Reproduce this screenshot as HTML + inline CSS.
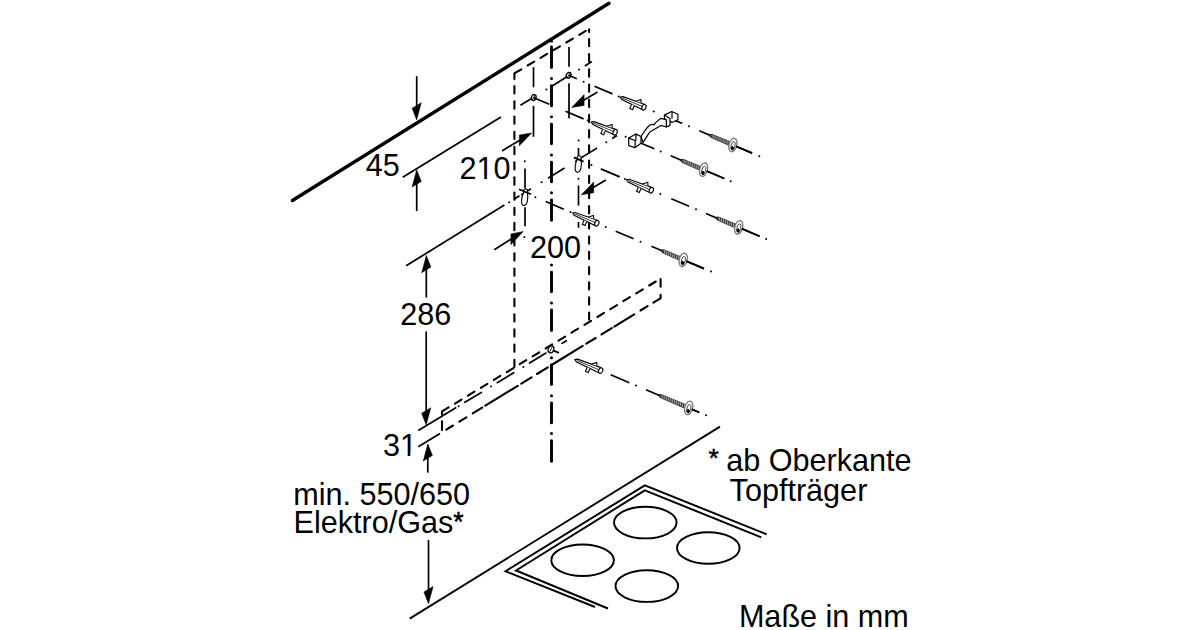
<!DOCTYPE html>
<html><head><meta charset="utf-8"><style>
html,body{margin:0;padding:0;background:#fff;width:1200px;height:630px;overflow:hidden}
svg{display:block}
text{font-family:"Liberation Sans",sans-serif;font-size:30.6px;fill:#000}
</style></head><body>
<svg width="1200" height="630" viewBox="0 0 1200 630">
<rect width="1200" height="630" fill="#fff"/>
<g stroke="#000" fill="none">
<line x1="292.4" y1="200.5" x2="609.0" y2="3.3" stroke-width="3.4" stroke-linecap="round" />
<line x1="416.7" y1="76.2" x2="416.7" y2="107.5" stroke-width="1.7" stroke-linecap="butt" />
<polygon points="416.7,120.0 421.3,102.7 412.1,108.3" fill="#000" stroke="#000" stroke-width="0.5" stroke-linejoin="round"/>
<line x1="416.7" y1="211.0" x2="416.7" y2="182.3" stroke-width="1.7" stroke-linecap="butt" />
<polygon points="416.7,169.8 421.3,181.5 412.1,187.1" fill="#000" stroke="#000" stroke-width="0.5" stroke-linejoin="round"/>
<line x1="402.7" y1="177.3" x2="501.0" y2="117.1" stroke-width="1.75" stroke-linecap="butt" />
<line x1="520.4" y1="105.3" x2="532.0" y2="98.2" stroke-width="1.75" stroke-linecap="butt" />
<circle cx="546.4" cy="89.4" r="1.0" fill="#000" stroke="none"/>
<line x1="551.3" y1="86.4" x2="566.5" y2="77.1" stroke-width="1.75" stroke-linecap="butt" />
<circle cx="579.0" cy="69.4" r="1.0" fill="#000" stroke="none"/>
<line x1="584.8" y1="65.9" x2="591.9" y2="61.5" stroke-width="1.75" stroke-linecap="butt" />
<line x1="502.0" y1="151.0" x2="521.0" y2="139.4" stroke-width="1.7" stroke-linecap="butt" />
<polygon points="531.7,132.9 519.3,145.8 519.3,135.0" fill="#000" stroke="#000" stroke-width="0.5" stroke-linejoin="round"/>
<line x1="597.5" y1="92.0" x2="582.4" y2="101.1" stroke-width="1.7" stroke-linecap="butt" />
<polygon points="571.7,107.5 584.1,105.4 584.1,94.6" fill="#000" stroke="#000" stroke-width="0.5" stroke-linejoin="round"/>
<line x1="406.2" y1="265.7" x2="504.4" y2="205.1" stroke-width="1.75" stroke-linecap="butt" />
<circle cx="509.1" cy="202.2" r="1.0" fill="#000" stroke="none"/>
<line x1="514.4" y1="198.9" x2="519.5" y2="195.8" stroke-width="1.75" stroke-linecap="butt" />
<line x1="521.0" y1="194.9" x2="531.0" y2="188.7" stroke-width="1.6" stroke-linecap="butt" />
<circle cx="541.6" cy="182.2" r="1.0" fill="#000" stroke="none"/>
<line x1="548.0" y1="178.2" x2="564.5" y2="168.0" stroke-width="1.75" stroke-linecap="butt" />
<line x1="575.0" y1="161.6" x2="597.0" y2="148.0" stroke-width="1.6" stroke-linecap="butt" />
<circle cx="606.3" cy="142.2" r="1.0" fill="#000" stroke="none"/>
<line x1="612.2" y1="138.6" x2="617.0" y2="135.6" stroke-width="1.75" stroke-linecap="butt" />
<line x1="494.3" y1="249.8" x2="512.6" y2="238.2" stroke-width="1.7" stroke-linecap="butt" />
<polygon points="523.2,231.5 510.9,244.7 510.9,233.9" fill="#000" stroke="#000" stroke-width="0.5" stroke-linejoin="round"/>
<line x1="605.8" y1="179.9" x2="592.0" y2="188.3" stroke-width="1.7" stroke-linecap="butt" />
<polygon points="581.3,194.8 593.7,192.7 593.7,181.9" fill="#000" stroke="#000" stroke-width="0.5" stroke-linejoin="round"/>
<line x1="514.4" y1="73.8" x2="514.4" y2="79.1" stroke-width="2.1" stroke-linecap="round" />
<line x1="514.4" y1="86.1" x2="514.4" y2="93.5" stroke-width="2.1" stroke-linecap="round" />
<line x1="514.4" y1="101.3" x2="514.4" y2="108.7" stroke-width="2.1" stroke-linecap="round" />
<line x1="514.4" y1="116.5" x2="514.4" y2="123.8" stroke-width="2.1" stroke-linecap="round" />
<line x1="514.4" y1="131.7" x2="514.4" y2="139.0" stroke-width="2.1" stroke-linecap="round" />
<line x1="514.4" y1="146.9" x2="514.4" y2="154.2" stroke-width="2.1" stroke-linecap="round" />
<line x1="514.4" y1="162.2" x2="514.4" y2="169.5" stroke-width="2.1" stroke-linecap="round" />
<line x1="514.4" y1="177.3" x2="514.4" y2="184.7" stroke-width="2.1" stroke-linecap="round" />
<line x1="514.4" y1="192.5" x2="514.4" y2="199.8" stroke-width="2.1" stroke-linecap="round" />
<line x1="514.4" y1="207.7" x2="514.4" y2="215.0" stroke-width="2.1" stroke-linecap="round" />
<line x1="514.4" y1="222.9" x2="514.4" y2="230.2" stroke-width="2.1" stroke-linecap="round" />
<line x1="514.4" y1="238.2" x2="514.4" y2="245.5" stroke-width="2.1" stroke-linecap="round" />
<line x1="514.4" y1="253.3" x2="514.4" y2="260.6" stroke-width="2.1" stroke-linecap="round" />
<line x1="514.4" y1="268.6" x2="514.4" y2="275.8" stroke-width="2.1" stroke-linecap="round" />
<line x1="514.4" y1="283.8" x2="514.4" y2="291.0" stroke-width="2.1" stroke-linecap="round" />
<line x1="514.4" y1="298.9" x2="514.4" y2="306.2" stroke-width="2.1" stroke-linecap="round" />
<line x1="514.4" y1="314.2" x2="514.4" y2="321.4" stroke-width="2.1" stroke-linecap="round" />
<line x1="514.4" y1="329.4" x2="514.4" y2="336.6" stroke-width="2.1" stroke-linecap="round" />
<line x1="514.4" y1="344.6" x2="514.4" y2="351.8" stroke-width="2.1" stroke-linecap="round" />
<line x1="514.4" y1="359.8" x2="514.4" y2="367.0" stroke-width="2.1" stroke-linecap="round" />
<line x1="589.1" y1="29.4" x2="589.1" y2="32.1" stroke-width="2.1" stroke-linecap="round" />
<line x1="589.1" y1="39.0" x2="589.1" y2="46.2" stroke-width="2.1" stroke-linecap="round" />
<line x1="589.1" y1="54.1" x2="589.1" y2="61.4" stroke-width="2.1" stroke-linecap="round" />
<line x1="589.1" y1="69.3" x2="589.1" y2="76.7" stroke-width="2.1" stroke-linecap="round" />
<line x1="589.1" y1="84.5" x2="589.1" y2="91.8" stroke-width="2.1" stroke-linecap="round" />
<line x1="589.1" y1="99.8" x2="589.1" y2="107.1" stroke-width="2.1" stroke-linecap="round" />
<line x1="589.1" y1="114.9" x2="589.1" y2="122.2" stroke-width="2.1" stroke-linecap="round" />
<line x1="589.1" y1="130.1" x2="589.1" y2="137.4" stroke-width="2.1" stroke-linecap="round" />
<line x1="589.1" y1="145.3" x2="589.1" y2="152.7" stroke-width="2.1" stroke-linecap="round" />
<line x1="589.1" y1="160.5" x2="589.1" y2="167.8" stroke-width="2.1" stroke-linecap="round" />
<line x1="589.1" y1="175.7" x2="589.1" y2="183.0" stroke-width="2.1" stroke-linecap="round" />
<line x1="589.1" y1="190.9" x2="589.1" y2="198.2" stroke-width="2.1" stroke-linecap="round" />
<line x1="589.1" y1="206.1" x2="589.1" y2="213.4" stroke-width="2.1" stroke-linecap="round" />
<line x1="589.1" y1="221.3" x2="589.1" y2="228.6" stroke-width="2.1" stroke-linecap="round" />
<line x1="589.1" y1="236.5" x2="589.1" y2="243.8" stroke-width="2.1" stroke-linecap="round" />
<line x1="589.1" y1="251.7" x2="589.1" y2="259.0" stroke-width="2.1" stroke-linecap="round" />
<line x1="589.1" y1="267.0" x2="589.1" y2="274.2" stroke-width="2.1" stroke-linecap="round" />
<line x1="589.1" y1="282.2" x2="589.1" y2="289.4" stroke-width="2.1" stroke-linecap="round" />
<line x1="589.1" y1="297.4" x2="589.1" y2="304.6" stroke-width="2.1" stroke-linecap="round" />
<line x1="589.1" y1="312.6" x2="589.1" y2="319.6" stroke-width="2.1" stroke-linecap="round" />
<line x1="514.7" y1="73.2" x2="521.3" y2="69.3" stroke-width="2.1" stroke-linecap="round" />
<line x1="527.6" y1="65.5" x2="534.2" y2="61.6" stroke-width="2.1" stroke-linecap="round" />
<line x1="540.5" y1="57.9" x2="547.1" y2="53.9" stroke-width="2.1" stroke-linecap="round" />
<line x1="553.4" y1="50.2" x2="560.0" y2="46.3" stroke-width="2.1" stroke-linecap="round" />
<line x1="566.3" y1="42.5" x2="572.9" y2="38.6" stroke-width="2.1" stroke-linecap="round" />
<line x1="579.2" y1="34.8" x2="585.8" y2="30.9" stroke-width="2.1" stroke-linecap="round" />
<line x1="533.5" y1="67.2" x2="533.5" y2="87.3" stroke-width="1.7" stroke-linecap="butt" />
<line x1="533.5" y1="105.9" x2="533.5" y2="136.8" stroke-width="1.7" stroke-linecap="butt" />
<line x1="569.0" y1="47.1" x2="569.0" y2="66.7" stroke-width="1.7" stroke-linecap="butt" />
<line x1="569.0" y1="83.2" x2="569.0" y2="118.3" stroke-width="1.7" stroke-linecap="butt" />
<circle cx="524.8" cy="161.3" r="1.0" fill="#000" stroke="none"/>
<line x1="525.0" y1="168.5" x2="525.0" y2="188.0" stroke-width="1.7" stroke-linecap="butt" />
<line x1="525.0" y1="207.2" x2="525.0" y2="226.2" stroke-width="1.7" stroke-linecap="butt" />
<circle cx="524.4" cy="236.9" r="1.0" fill="#000" stroke="none"/>
<circle cx="578.6" cy="140.6" r="1.0" fill="#000" stroke="none"/>
<line x1="578.5" y1="147.9" x2="578.5" y2="156.0" stroke-width="1.7" stroke-linecap="butt" />
<line x1="578.5" y1="185.5" x2="578.5" y2="205.6" stroke-width="1.7" stroke-linecap="butt" />
<line x1="578.5" y1="222.0" x2="578.5" y2="227.8" stroke-width="1.7" stroke-linecap="butt" />
<circle cx="578.5" cy="178.8" r="1.0" fill="#000" stroke="none"/>
<ellipse cx="533.7" cy="97.5" rx="2.3" ry="3" fill="#fff" stroke="#000" stroke-width="1.3" transform="rotate(20 533.7 97.5)"/>
<line x1="532.2" y1="100.0" x2="535.2" y2="95.0" stroke-width="0.9" stroke-linecap="butt" />
<ellipse cx="568.6" cy="75.3" rx="2.3" ry="3" fill="#fff" stroke="#000" stroke-width="1.3" transform="rotate(20 568.6 75.3)"/>
<line x1="567.1" y1="77.8" x2="570.1" y2="72.8" stroke-width="0.9" stroke-linecap="butt" />
<circle cx="525.6" cy="190.9" r="2" fill="#fff" stroke="#000" stroke-width="1.1"/>
<path d="M523.8000000000001,192.4 C521.1,196.9 520.6,204.9 523.6,205.4 C527.1,205.9 528.6,198.9 527.4,192.4" fill="#fff" stroke="#000" stroke-width="1.1"/>
<circle cx="579.2" cy="157.7" r="2" fill="#fff" stroke="#000" stroke-width="1.1"/>
<path d="M577.4000000000001,159.2 C574.7,163.7 574.2,171.7 577.2,172.2 C580.7,172.7 582.2,165.7 581.0,159.2" fill="#fff" stroke="#000" stroke-width="1.1"/>
<line x1="519.0" y1="189.2" x2="531.0" y2="194.3" stroke-width="1.75" stroke-linecap="butt" />
<line x1="573.8" y1="157.4" x2="583.6" y2="161.6" stroke-width="1.75" stroke-linecap="butt" />
<line x1="551.5" y1="39.5" x2="551.5" y2="42.5" stroke-width="2.6" stroke-linecap="butt" />
<line x1="551.5" y1="47.0" x2="551.5" y2="67.6" stroke-width="2.9" stroke-linecap="round" />
<line x1="551.5" y1="85.8" x2="551.5" y2="105.9" stroke-width="2.9" stroke-linecap="round" />
<line x1="551.5" y1="124.1" x2="551.5" y2="143.7" stroke-width="2.9" stroke-linecap="round" />
<line x1="551.5" y1="162.3" x2="551.5" y2="181.9" stroke-width="2.9" stroke-linecap="round" />
<line x1="551.5" y1="199.9" x2="551.5" y2="220.3" stroke-width="2.9" stroke-linecap="round" />
<line x1="551.5" y1="272.1" x2="551.5" y2="291.8" stroke-width="2.9" stroke-linecap="round" />
<line x1="551.5" y1="310.0" x2="551.5" y2="330.5" stroke-width="2.9" stroke-linecap="round" />
<line x1="551.5" y1="365.0" x2="551.5" y2="384.6" stroke-width="2.9" stroke-linecap="round" />
<line x1="551.5" y1="402.9" x2="551.5" y2="422.9" stroke-width="2.9" stroke-linecap="round" />
<line x1="551.5" y1="440.7" x2="551.5" y2="461.4" stroke-width="2.9" stroke-linecap="round" />
<circle cx="551.5" cy="78.6" r="1.5" fill="#000" stroke="none"/>
<circle cx="551.5" cy="116.8" r="1.5" fill="#000" stroke="none"/>
<circle cx="551.5" cy="155.1" r="1.5" fill="#000" stroke="none"/>
<circle cx="551.5" cy="192.7" r="1.5" fill="#000" stroke="none"/>
<circle cx="551.5" cy="265.0" r="1.5" fill="#000" stroke="none"/>
<circle cx="551.5" cy="303.1" r="1.5" fill="#000" stroke="none"/>
<circle cx="551.5" cy="357.7" r="1.5" fill="#000" stroke="none"/>
<circle cx="551.5" cy="395.7" r="1.5" fill="#000" stroke="none"/>
<circle cx="551.5" cy="433.6" r="1.5" fill="#000" stroke="none"/>
<line x1="568.6" y1="75.3" x2="576.9" y2="78.8" stroke-width="1.75" stroke-linecap="butt" />
<circle cx="583.6" cy="81.7" r="1.0" fill="#000" stroke="none"/>
<line x1="594.4" y1="86.2" x2="612.5" y2="93.9" stroke-width="1.75" stroke-linecap="butt" />
<circle cx="618.7" cy="96.5" r="1.0" fill="#000" stroke="none"/>
<g transform="translate(621.3,97.6) rotate(23.0)" fill="#fff" stroke="#000" stroke-width="1.1"><path d="M-1.2,0 L1.2,-1.5 L23.8,-2.8 L23.8,2.8 L1.2,1.5 Z"/><line x1="1" y1="0" x2="22.8" y2="0" stroke-width="0.7"/><ellipse cx="24.6" cy="0" rx="2" ry="2.9"/><path d="M12.1,2.2 l0,4.5 l3,0 l0,-4.5" /><path d="M14.8,-2.4 l4,-3.5 l1.5,3" /></g>
<circle cx="653.8" cy="111.4" r="1.0" fill="#000" stroke="none"/>
<line x1="670.8" y1="118.6" x2="682.3" y2="123.5" stroke-width="1.75" stroke-linecap="butt" />
<circle cx="689.0" cy="126.3" r="1.0" fill="#000" stroke="none"/>
<g transform="translate(699.3,130.7) rotate(23.0)" stroke="#000"><line x1="0" y1="0" x2="57.4" y2="0" stroke-width="1.7"/><path d="M10.2,0 L13.2,-1.7 L34.5,-1.9 L34.5,1.9 L13.2,1.7 Z" fill="#444" stroke-width="0.6"/><line x1="14.2" y1="-1.9" x2="15.4" y2="1.9" stroke="#ccc" stroke-width="0.6"/><line x1="16.4" y1="-1.9" x2="17.6" y2="1.9" stroke="#ccc" stroke-width="0.6"/><line x1="18.6" y1="-1.9" x2="19.8" y2="1.9" stroke="#ccc" stroke-width="0.6"/><line x1="20.8" y1="-1.9" x2="22.0" y2="1.9" stroke="#ccc" stroke-width="0.6"/><line x1="23.0" y1="-1.9" x2="24.2" y2="1.9" stroke="#ccc" stroke-width="0.6"/><line x1="25.2" y1="-1.9" x2="26.4" y2="1.9" stroke="#ccc" stroke-width="0.6"/><line x1="27.4" y1="-1.9" x2="28.6" y2="1.9" stroke="#ccc" stroke-width="0.6"/><line x1="29.6" y1="-1.9" x2="30.8" y2="1.9" stroke="#ccc" stroke-width="0.6"/><line x1="31.8" y1="-1.9" x2="33.0" y2="1.9" stroke="#ccc" stroke-width="0.6"/></g>
<ellipse cx="732.9" cy="145.0" rx="3.9" ry="6.9" transform="rotate(14 732.9 145.0)" fill="#fff" stroke="#777" stroke-width="1.3"/>
<ellipse cx="733.2" cy="145.6" rx="1.9" ry="4.3" transform="rotate(14 732.9 145.0)" fill="#fff" stroke="#444" stroke-width="0.9"/>
<ellipse cx="732.3" cy="148.2" rx="1.1" ry="1.7" fill="#000"/>
<line x1="735.9" y1="146.2" x2="752.1" y2="153.1" stroke-width="1.7" stroke-linecap="butt" />
<circle cx="759.3" cy="156.2" r="1.0" fill="#000" stroke="none"/>
<line x1="533.7" y1="97.7" x2="549.3" y2="104.3" stroke-width="1.75" stroke-linecap="butt" />
<line x1="565.5" y1="111.2" x2="583.6" y2="118.9" stroke-width="1.75" stroke-linecap="butt" />
<circle cx="587.8" cy="120.6" r="1.0" fill="#000" stroke="none"/>
<g transform="translate(592.4,122.6) rotate(23.0)" fill="#fff" stroke="#000" stroke-width="1.1"><path d="M-1.2,0 L1.2,-1.5 L23.9,-2.8 L23.9,2.8 L1.2,1.5 Z"/><line x1="1" y1="0" x2="22.9" y2="0" stroke-width="0.7"/><ellipse cx="24.7" cy="0" rx="2" ry="2.9"/><path d="M12.1,2.2 l0,4.5 l3,0 l0,-4.5" /><path d="M14.8,-2.4 l4,-3.5 l1.5,3" /></g>
<circle cx="625.6" cy="136.7" r="1.0" fill="#000" stroke="none"/>
<line x1="635.1" y1="140.7" x2="654.3" y2="148.8" stroke-width="1.75" stroke-linecap="butt" />
<circle cx="660.7" cy="151.5" r="1.0" fill="#000" stroke="none"/>
<g transform="translate(670.7,155.8) rotate(23.0)" stroke="#000"><line x1="0" y1="0" x2="58.2" y2="0" stroke-width="1.7"/><path d="M10.0,0 L13.0,-1.7 L33.7,-1.9 L33.7,1.9 L13.0,1.7 Z" fill="#444" stroke-width="0.6"/><line x1="14.0" y1="-1.9" x2="15.2" y2="1.9" stroke="#ccc" stroke-width="0.6"/><line x1="16.2" y1="-1.9" x2="17.4" y2="1.9" stroke="#ccc" stroke-width="0.6"/><line x1="18.4" y1="-1.9" x2="19.6" y2="1.9" stroke="#ccc" stroke-width="0.6"/><line x1="20.6" y1="-1.9" x2="21.8" y2="1.9" stroke="#ccc" stroke-width="0.6"/><line x1="22.8" y1="-1.9" x2="24.0" y2="1.9" stroke="#ccc" stroke-width="0.6"/><line x1="25.0" y1="-1.9" x2="26.2" y2="1.9" stroke="#ccc" stroke-width="0.6"/><line x1="27.2" y1="-1.9" x2="28.4" y2="1.9" stroke="#ccc" stroke-width="0.6"/><line x1="29.4" y1="-1.9" x2="30.6" y2="1.9" stroke="#ccc" stroke-width="0.6"/><line x1="31.6" y1="-1.9" x2="32.8" y2="1.9" stroke="#ccc" stroke-width="0.6"/></g>
<ellipse cx="703.6" cy="169.7" rx="3.9" ry="6.9" transform="rotate(14 703.6 169.7)" fill="#fff" stroke="#777" stroke-width="1.3"/>
<ellipse cx="703.9" cy="170.3" rx="1.9" ry="4.3" transform="rotate(14 703.6 169.7)" fill="#fff" stroke="#444" stroke-width="0.9"/>
<ellipse cx="703.0" cy="172.9" rx="1.1" ry="1.7" fill="#000"/>
<line x1="706.6" y1="171.0" x2="724.3" y2="178.5" stroke-width="1.7" stroke-linecap="butt" />
<circle cx="730.7" cy="181.2" r="1.0" fill="#000" stroke="none"/>
<circle cx="591.5" cy="164.9" r="1.0" fill="#000" stroke="none"/>
<line x1="600.8" y1="168.9" x2="619.7" y2="176.9" stroke-width="1.75" stroke-linecap="butt" />
<circle cx="625.0" cy="179.1" r="1.0" fill="#000" stroke="none"/>
<g transform="translate(627.6,180.2) rotate(23.0)" fill="#fff" stroke="#000" stroke-width="1.1"><path d="M-1.2,0 L1.2,-1.5 L25.0,-2.8 L25.0,2.8 L1.2,1.5 Z"/><line x1="1" y1="0" x2="24.0" y2="0" stroke-width="0.7"/><ellipse cx="25.8" cy="0" rx="2" ry="2.9"/><path d="M12.6,2.2 l0,4.5 l3,0 l0,-4.5" /><path d="M15.4,-2.4 l4,-3.5 l1.5,3" /></g>
<circle cx="660.4" cy="194.1" r="1.0" fill="#000" stroke="none"/>
<line x1="671.3" y1="198.7" x2="689.1" y2="206.3" stroke-width="1.75" stroke-linecap="butt" />
<circle cx="696.0" cy="209.2" r="1.0" fill="#000" stroke="none"/>
<g transform="translate(706.0,213.5) rotate(23.0)" stroke="#000"><line x1="0" y1="0" x2="58.2" y2="0" stroke-width="1.7"/><path d="M9.9,0 L12.9,-1.7 L33.5,-1.9 L33.5,1.9 L12.9,1.7 Z" fill="#444" stroke-width="0.6"/><line x1="13.9" y1="-1.9" x2="15.1" y2="1.9" stroke="#ccc" stroke-width="0.6"/><line x1="16.1" y1="-1.9" x2="17.3" y2="1.9" stroke="#ccc" stroke-width="0.6"/><line x1="18.3" y1="-1.9" x2="19.5" y2="1.9" stroke="#ccc" stroke-width="0.6"/><line x1="20.5" y1="-1.9" x2="21.7" y2="1.9" stroke="#ccc" stroke-width="0.6"/><line x1="22.7" y1="-1.9" x2="23.9" y2="1.9" stroke="#ccc" stroke-width="0.6"/><line x1="24.9" y1="-1.9" x2="26.1" y2="1.9" stroke="#ccc" stroke-width="0.6"/><line x1="27.1" y1="-1.9" x2="28.3" y2="1.9" stroke="#ccc" stroke-width="0.6"/><line x1="29.3" y1="-1.9" x2="30.5" y2="1.9" stroke="#ccc" stroke-width="0.6"/><line x1="31.5" y1="-1.9" x2="32.7" y2="1.9" stroke="#ccc" stroke-width="0.6"/></g>
<ellipse cx="738.7" cy="227.3" rx="3.9" ry="6.9" transform="rotate(14 738.7 227.3)" fill="#fff" stroke="#777" stroke-width="1.3"/>
<ellipse cx="739.0" cy="227.9" rx="1.9" ry="4.3" transform="rotate(14 738.7 227.3)" fill="#fff" stroke="#444" stroke-width="0.9"/>
<ellipse cx="738.1" cy="230.5" rx="1.1" ry="1.7" fill="#000"/>
<line x1="741.7" y1="228.6" x2="759.6" y2="236.2" stroke-width="1.7" stroke-linecap="butt" />
<circle cx="766.1" cy="238.9" r="1.0" fill="#000" stroke="none"/>
<circle cx="535.4" cy="197.2" r="1.0" fill="#000" stroke="none"/>
<line x1="545.7" y1="201.5" x2="563.8" y2="209.2" stroke-width="1.75" stroke-linecap="butt" />
<circle cx="570.5" cy="212.0" r="1.0" fill="#000" stroke="none"/>
<g transform="translate(573.6,213.4) rotate(23.0)" fill="#fff" stroke="#000" stroke-width="1.1"><path d="M-1.2,0 L1.2,-1.5 L24.4,-2.8 L24.4,2.8 L1.2,1.5 Z"/><line x1="1" y1="0" x2="23.4" y2="0" stroke-width="0.7"/><ellipse cx="25.2" cy="0" rx="2" ry="2.9"/><path d="M12.3,2.2 l0,4.5 l3,0 l0,-4.5" /><path d="M15.1,-2.4 l4,-3.5 l1.5,3" /></g>
<circle cx="605.8" cy="227.0" r="1.0" fill="#000" stroke="none"/>
<line x1="615.7" y1="231.2" x2="633.6" y2="238.8" stroke-width="1.75" stroke-linecap="butt" />
<circle cx="640.5" cy="241.7" r="1.0" fill="#000" stroke="none"/>
<g transform="translate(651.4,246.3) rotate(23.0)" stroke="#000"><line x1="0" y1="0" x2="57.1" y2="0" stroke-width="1.7"/><path d="M9.7,0 L12.7,-1.7 L32.5,-1.9 L32.5,1.9 L12.7,1.7 Z" fill="#444" stroke-width="0.6"/><line x1="13.7" y1="-1.9" x2="14.9" y2="1.9" stroke="#ccc" stroke-width="0.6"/><line x1="15.9" y1="-1.9" x2="17.1" y2="1.9" stroke="#ccc" stroke-width="0.6"/><line x1="18.1" y1="-1.9" x2="19.3" y2="1.9" stroke="#ccc" stroke-width="0.6"/><line x1="20.3" y1="-1.9" x2="21.5" y2="1.9" stroke="#ccc" stroke-width="0.6"/><line x1="22.5" y1="-1.9" x2="23.7" y2="1.9" stroke="#ccc" stroke-width="0.6"/><line x1="24.7" y1="-1.9" x2="25.9" y2="1.9" stroke="#ccc" stroke-width="0.6"/><line x1="26.9" y1="-1.9" x2="28.1" y2="1.9" stroke="#ccc" stroke-width="0.6"/><line x1="29.1" y1="-1.9" x2="30.3" y2="1.9" stroke="#ccc" stroke-width="0.6"/><line x1="31.3" y1="-1.9" x2="32.5" y2="1.9" stroke="#ccc" stroke-width="0.6"/></g>
<ellipse cx="683.2" cy="259.8" rx="3.9" ry="6.9" transform="rotate(14 683.2 259.8)" fill="#fff" stroke="#777" stroke-width="1.3"/>
<ellipse cx="683.5" cy="260.4" rx="1.9" ry="4.3" transform="rotate(14 683.2 259.8)" fill="#fff" stroke="#444" stroke-width="0.9"/>
<ellipse cx="682.6" cy="263.0" rx="1.1" ry="1.7" fill="#000"/>
<line x1="686.2" y1="261.1" x2="704.0" y2="268.6" stroke-width="1.7" stroke-linecap="butt" />
<circle cx="711.0" cy="271.6" r="1.0" fill="#000" stroke="none"/>
<line x1="553.5" y1="350.6" x2="559.0" y2="352.9" stroke-width="1.75" stroke-linecap="butt" />
<g transform="translate(576.0,360.1) rotate(23.0)" fill="#fff" stroke="#000" stroke-width="1.1"><path d="M-1.2,0 L1.2,-1.5 L26.0,-2.8 L26.0,2.8 L1.2,1.5 Z"/><line x1="1" y1="0" x2="25.0" y2="0" stroke-width="0.7"/><ellipse cx="26.8" cy="0" rx="2" ry="2.9"/><path d="M13.1,2.2 l0,4.5 l3,0 l0,-4.5" /><path d="M16.0,-2.4 l4,-3.5 l1.5,3" /></g>
<line x1="610.7" y1="374.8" x2="629.3" y2="382.7" stroke-width="1.75" stroke-linecap="butt" />
<circle cx="636.0" cy="385.5" r="1.0" fill="#000" stroke="none"/>
<g transform="translate(646.0,389.8) rotate(23.0)" stroke="#000"><line x1="0" y1="0" x2="57.9" y2="0" stroke-width="1.7"/><path d="M13.0,0 L16.0,-1.7 L44.4,-1.9 L44.4,1.9 L16.0,1.7 Z" fill="#444" stroke-width="0.6"/><line x1="17.0" y1="-1.9" x2="18.2" y2="1.9" stroke="#ccc" stroke-width="0.6"/><line x1="19.2" y1="-1.9" x2="20.4" y2="1.9" stroke="#ccc" stroke-width="0.6"/><line x1="21.4" y1="-1.9" x2="22.6" y2="1.9" stroke="#ccc" stroke-width="0.6"/><line x1="23.6" y1="-1.9" x2="24.8" y2="1.9" stroke="#ccc" stroke-width="0.6"/><line x1="25.8" y1="-1.9" x2="27.0" y2="1.9" stroke="#ccc" stroke-width="0.6"/><line x1="28.0" y1="-1.9" x2="29.2" y2="1.9" stroke="#ccc" stroke-width="0.6"/><line x1="30.2" y1="-1.9" x2="31.4" y2="1.9" stroke="#ccc" stroke-width="0.6"/><line x1="32.4" y1="-1.9" x2="33.6" y2="1.9" stroke="#ccc" stroke-width="0.6"/><line x1="34.6" y1="-1.9" x2="35.8" y2="1.9" stroke="#ccc" stroke-width="0.6"/><line x1="36.8" y1="-1.9" x2="38.0" y2="1.9" stroke="#ccc" stroke-width="0.6"/><line x1="39.0" y1="-1.9" x2="40.2" y2="1.9" stroke="#ccc" stroke-width="0.6"/><line x1="41.2" y1="-1.9" x2="42.4" y2="1.9" stroke="#ccc" stroke-width="0.6"/></g>
<ellipse cx="688.7" cy="407.9" rx="3.9" ry="6.9" transform="rotate(14 688.7 407.9)" fill="#fff" stroke="#777" stroke-width="1.3"/>
<ellipse cx="689.0" cy="408.5" rx="1.9" ry="4.3" transform="rotate(14 688.7 407.9)" fill="#fff" stroke="#444" stroke-width="0.9"/>
<ellipse cx="688.1" cy="411.1" rx="1.1" ry="1.7" fill="#000"/>
<line x1="691.7" y1="409.2" x2="699.3" y2="412.4" stroke-width="1.7" stroke-linecap="butt" />
<circle cx="706.0" cy="415.2" r="1.0" fill="#000" stroke="none"/>
<ellipse cx="551" cy="349.3" rx="2.7" ry="3.6" fill="#fff" stroke="#000" stroke-width="1.3" transform="rotate(20 551 349.3)"/>
<line x1="549.6" y1="351.8" x2="552.4" y2="346.8" stroke-width="0.9" stroke-linecap="butt" />
<g fill="#fff" stroke="#000" stroke-width="1.2" stroke-linejoin="round" stroke-linecap="round">
<path d="M641,136.5 C644.5,131.5 646.5,127.5 649.4,125.4 L652.5,124.3 L654.2,124.8 L655.6,122.6 L660.9,118.3 L666.8,119.8 L666.4,127 L660.9,125.4 L649.8,132.1 C647.5,135 645.5,139 643,142.5 Z"/>
<path d="M628.7,138.1 L635.9,134.1 L641,136.5 L641,143.3 L635.1,147.6 L628.7,145.6 Z"/>
<path d="M628.7,138.1 L635.1,140.5 L635.1,147.6 M635.9,134.1 L635.9,140.2"/>
<path d="M664.4,115.1 L671.6,111.5 L677.9,114.3 L677.9,119.8 L672,122.5 L670,121 L670,125.4 L666.4,127 L666.4,119.8 L664.4,118.5 Z"/>
<path d="M672,111.5 L672,118.3 M664.4,115.1 L670,118.5 L670,121"/>
</g>
<line x1="442.0" y1="411.4" x2="448.6" y2="407.4" stroke-width="2.1" stroke-linecap="round" />
<line x1="454.9" y1="403.6" x2="461.5" y2="399.6" stroke-width="2.1" stroke-linecap="round" />
<line x1="467.9" y1="395.7" x2="474.5" y2="391.7" stroke-width="2.1" stroke-linecap="round" />
<line x1="480.8" y1="387.8" x2="487.4" y2="383.8" stroke-width="2.1" stroke-linecap="round" />
<line x1="493.8" y1="379.9" x2="500.4" y2="375.9" stroke-width="2.1" stroke-linecap="round" />
<line x1="506.8" y1="372.1" x2="513.4" y2="368.1" stroke-width="2.1" stroke-linecap="round" />
<line x1="519.7" y1="364.2" x2="526.3" y2="360.2" stroke-width="2.1" stroke-linecap="round" />
<line x1="532.6" y1="356.3" x2="539.3" y2="352.3" stroke-width="2.1" stroke-linecap="round" />
<line x1="545.6" y1="348.5" x2="552.2" y2="344.4" stroke-width="2.1" stroke-linecap="round" />
<line x1="558.5" y1="340.6" x2="565.2" y2="336.6" stroke-width="2.1" stroke-linecap="round" />
<line x1="571.5" y1="332.7" x2="578.1" y2="328.7" stroke-width="2.1" stroke-linecap="round" />
<line x1="584.4" y1="324.8" x2="591.1" y2="320.8" stroke-width="2.1" stroke-linecap="round" />
<line x1="597.4" y1="317.0" x2="604.0" y2="312.9" stroke-width="2.1" stroke-linecap="round" />
<line x1="610.3" y1="309.1" x2="617.0" y2="305.1" stroke-width="2.1" stroke-linecap="round" />
<line x1="623.3" y1="301.2" x2="629.9" y2="297.2" stroke-width="2.1" stroke-linecap="round" />
<line x1="636.2" y1="293.3" x2="642.9" y2="289.3" stroke-width="2.1" stroke-linecap="round" />
<line x1="649.2" y1="285.5" x2="655.8" y2="281.5" stroke-width="2.1" stroke-linecap="round" />
<line x1="418.3" y1="446.8" x2="440.0" y2="433.5" stroke-width="1.75" stroke-linecap="butt" />
<line x1="446.3" y1="429.6" x2="453.0" y2="425.5" stroke-width="2.1" stroke-linecap="round" />
<line x1="459.3" y1="421.6" x2="466.4" y2="417.3" stroke-width="2.1" stroke-linecap="round" />
<line x1="472.7" y1="413.4" x2="482.2" y2="407.6" stroke-width="2.1" stroke-linecap="round" />
<line x1="485.3" y1="405.7" x2="517.8" y2="385.8" stroke-width="2.1" stroke-linecap="round" />
<line x1="521.3" y1="383.6" x2="531.6" y2="377.3" stroke-width="2.1" stroke-linecap="round" />
<line x1="537.0" y1="374.0" x2="547.8" y2="367.4" stroke-width="2.1" stroke-linecap="round" />
<line x1="550.8" y1="365.5" x2="582.7" y2="345.9" stroke-width="2.1" stroke-linecap="round" />
<line x1="586.3" y1="343.7" x2="595.7" y2="338.0" stroke-width="2.1" stroke-linecap="round" />
<line x1="601.5" y1="334.4" x2="611.8" y2="328.1" stroke-width="2.1" stroke-linecap="round" />
<line x1="614.3" y1="326.6" x2="634.2" y2="314.4" stroke-width="2.1" stroke-linecap="round" />
<line x1="640.5" y1="310.5" x2="647.6" y2="306.1" stroke-width="2.1" stroke-linecap="round" />
<line x1="653.4" y1="302.6" x2="660.4" y2="298.3" stroke-width="2.1" stroke-linecap="round" />
<line x1="442.0" y1="411.8" x2="442.0" y2="414.8" stroke-width="2.1" stroke-linecap="round" />
<line x1="442.0" y1="421.4" x2="442.0" y2="430.1" stroke-width="2.1" stroke-linecap="round" />
<line x1="660.6" y1="279.0" x2="660.6" y2="286.8" stroke-width="2.1" stroke-linecap="round" />
<line x1="660.6" y1="294.7" x2="660.6" y2="297.8" stroke-width="2.1" stroke-linecap="round" />
<line x1="418.3" y1="430.6" x2="456.3" y2="407.6" stroke-width="1.75" stroke-linecap="butt" />
<circle cx="458.6" cy="406.2" r="1.0" fill="#000" stroke="none"/>
<line x1="464.9" y1="402.3" x2="481.3" y2="392.4" stroke-width="1.7" stroke-linecap="round" />
<circle cx="491.0" cy="386.5" r="1.0" fill="#000" stroke="none"/>
<line x1="497.3" y1="382.7" x2="513.7" y2="372.7" stroke-width="1.7" stroke-linecap="round" />
<circle cx="523.3" cy="366.9" r="1.0" fill="#000" stroke="none"/>
<line x1="529.6" y1="363.1" x2="546.0" y2="353.1" stroke-width="1.7" stroke-linecap="round" />
<line x1="562.0" y1="343.4" x2="566.4" y2="340.7" stroke-width="1.7" stroke-linecap="round" />
<line x1="426.3" y1="297.5" x2="426.3" y2="267.9" stroke-width="1.7" stroke-linecap="butt" />
<polygon points="426.3,255.4 430.9,267.1 421.7,272.7" fill="#000" stroke="#000" stroke-width="0.5" stroke-linejoin="round"/>
<line x1="426.2" y1="331.4" x2="426.2" y2="412.5" stroke-width="1.7" stroke-linecap="butt" />
<polygon points="426.2,425.0 430.8,407.7 421.6,413.3" fill="#000" stroke="#000" stroke-width="0.5" stroke-linejoin="round"/>
<line x1="427.8" y1="472.6" x2="427.8" y2="456.3" stroke-width="1.7" stroke-linecap="butt" />
<polygon points="427.8,443.8 432.4,455.5 423.2,461.1" fill="#000" stroke="#000" stroke-width="0.5" stroke-linejoin="round"/>
<line x1="428.5" y1="540.0" x2="428.5" y2="591.3" stroke-width="1.7" stroke-linecap="butt" />
<polygon points="428.5,603.8 433.1,586.5 423.9,592.1" fill="#000" stroke="#000" stroke-width="0.5" stroke-linejoin="round"/>
<line x1="409.7" y1="618.6" x2="720.0" y2="426.6" stroke-width="1.85" stroke-linecap="butt" />
<g stroke="#000" stroke-width="1.95" fill="none">
<polyline points="595,607 505.5,571.2 644.8,485.4 766.7,534.3"/>
<polyline points="608,608.5 516,570.5 644.8,490.3 761.3,537.4"/>
<ellipse cx="645.3" cy="522.6" rx="31.3" ry="15.8"/>
<ellipse cx="582.6" cy="560.2" rx="31.3" ry="15.8"/>
<ellipse cx="708.3" cy="548" rx="31.3" ry="15.8"/>
<ellipse cx="646.8" cy="586.1" rx="31.3" ry="15.8"/>
</g>
</g>
<rect x="529" y="232" width="54" height="30" fill="#fff"/>
<text transform="translate(365.70,175.80) scale(1,1.045)">45</text>
<text transform="translate(459.56,179.20) scale(1,1.045)">210</text>
<text transform="translate(530.06,257.90) scale(1,1.045)">200</text>
<text transform="translate(400.26,324.70) scale(1,1.045)">286</text>
<text transform="translate(382.93,455.90) scale(1,1.045)">31</text>
<text transform="translate(293.27,504.80) scale(1,1.045)">min. 550/650</text>
<text transform="translate(293.49,533.00) scale(1,1.045)">Elektro/Gas<tspan dy="-2.1" style="font-size:26.5px;stroke:#000;stroke-width:0.5">*</tspan></text>
<text transform="translate(726.20,471.10) scale(1,1.045)">ab Oberkante</text>
<text transform="translate(729.61,501.40) scale(1,1.045)">Topfträger</text>
<text transform="translate(738.89,627.00) scale(1,1.045)">Maße in mm</text>
<rect x="477.62" y="176.01" width="6.65" height="3.99" fill="#fff"/>
<rect x="486.98" y="176.01" width="6.41" height="3.99" fill="#fff"/>
<rect x="400.99" y="452.71" width="6.65" height="3.99" fill="#fff"/>
<rect x="410.35" y="452.71" width="6.41" height="3.99" fill="#fff"/>
<text x="708.5" y="467.4" style="font-size:26.5px;stroke:#000;stroke-width:0.5">*</text>

</svg>
</body></html>
